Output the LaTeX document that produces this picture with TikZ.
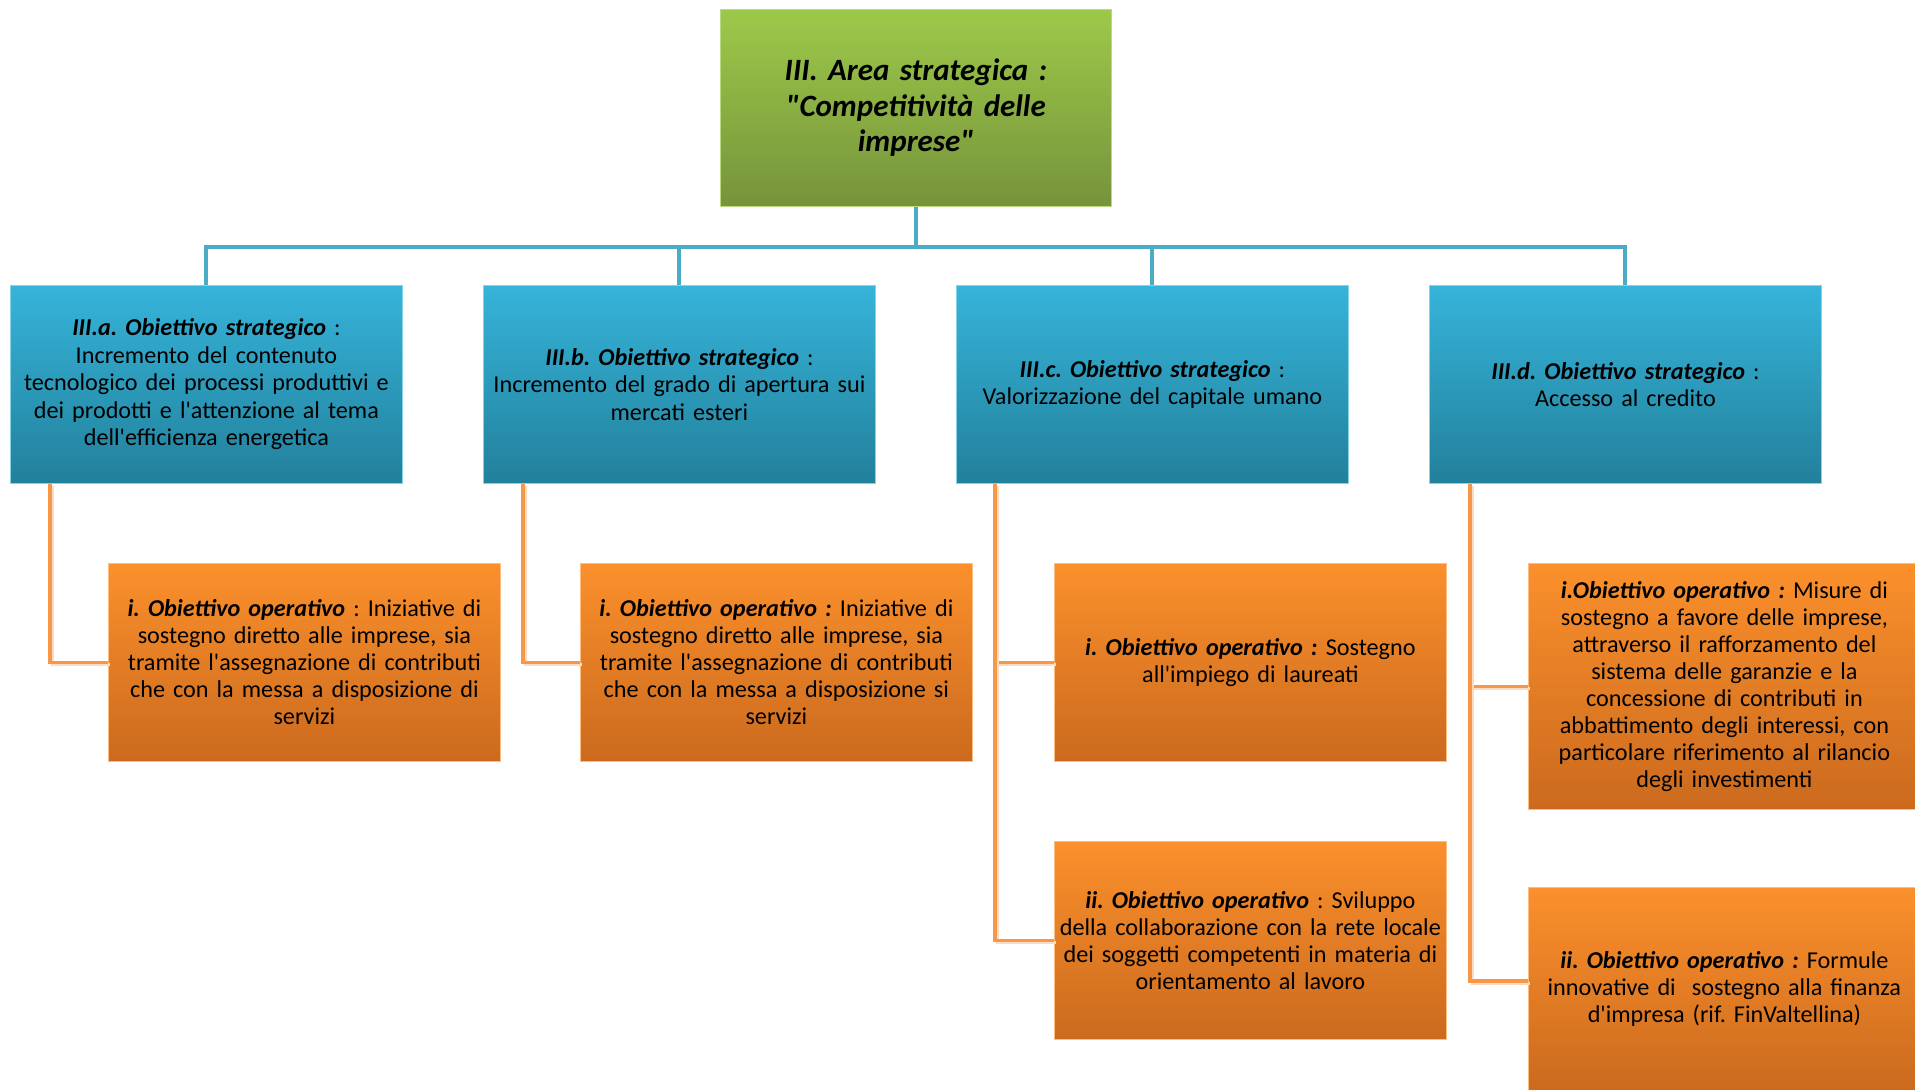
\documentclass[tikz,border=0pt]{standalone}
\usepackage{fontspec}
\setmainfont{Carlito}[Ligatures=TeXOff]
\frenchspacing
\definecolor{greentop}{HTML}{9DC94A}
\definecolor{greenbot}{HTML}{76933B}
\definecolor{bluetop}{HTML}{36B4DA}
\definecolor{bluebot}{HTML}{22809B}
\definecolor{orangetop}{HTML}{FB902C}
\definecolor{orangebot}{HTML}{CB6A1E}
\definecolor{busline}{HTML}{4AACC6}
\definecolor{linkline}{HTML}{F7974A}
\begin{document}
\begin{tikzpicture}[x=1pt,y=-1pt,
    box/.style={rectangle, anchor=north west, inner sep=0pt, align=center},
    areabox/.style={box, top color=greentop, bottom color=greenbot, draw=greentop!70!white, line width=0.8pt,
        minimum width=391pt, minimum height=197pt, text width=380pt, font={\fontsize{31}{35.5}\selectfont\bfseries\itshape}},
    stratbox/.style={box, top color=bluetop, bottom color=bluebot, draw=bluetop!60!white, line width=0.8pt,
        minimum width=392pt, minimum height=198pt, text width=392pt, font={\fontsize{24.2}{27.5}\selectfont}},
    opbox/.style={box, top color=orangetop, bottom color=orangebot, draw=orangetop!60!white, line width=0.8pt,
        minimum width=392pt, minimum height=198pt, text width=392pt, font={\fontsize{24.2}{27}\selectfont}},
    bus/.style={draw=busline, line width=4pt},
    link/.style={draw=linkline, line width=3.5pt,
        preaction={draw=linkline!35, line width=3pt, transform canvas={shift={(2pt,-2.5pt)}}}}]
    \clip (0,0) rectangle (1915,1090);
    \fill[white] (0,0) rectangle (1915,1090);

    \node[areabox] (area) at (720,9) {III. Area strategica :\\ "Competitività delle\\ imprese"};

    \node[stratbox] (sa) at (10,285) {\textbf{\textit{III.a. Obiettivo strategico}} :\\ Incremento del contenuto\\ tecnologico dei processi produttivi e\\ dei prodotti e l'attenzione al tema\\ dell'efficienza energetica};
    \node[stratbox] (sb) at (483,285) {\textbf{\textit{III.b. Obiettivo strategico}} :\\ Incremento del grado di apertura sui\\ mercati esteri};
    \node[stratbox] (sc) at (956,285) {\textbf{\textit{III.c. Obiettivo strategico}} :\\ Valorizzazione del capitale umano};
    \node[stratbox] (sd) at (1429,285) {\textbf{\textit{III.d. Obiettivo strategico}} :\\ Accesso al credito};

    \node[opbox] (oa) at (108,563) {\textbf{\textit{i. Obiettivo operativo}} : Iniziative di\\ sostegno diretto alle imprese, sia\\ tramite l'assegnazione di contributi\\ che con la messa a disposizione di\\ servizi};
    \node[opbox] (ob) at (580,563) {\textbf{\textit{i. Obiettivo operativo :}} Iniziative di\\ sostegno diretto alle imprese, sia\\ tramite l'assegnazione di contributi\\ che con la messa a disposizione si\\ servizi};
    \node[opbox] (oc1) at (1054,563) {\textbf{\textit{i. Obiettivo operativo :}} Sostegno\\ all'impiego di laureati};
    \node[opbox] (oc2) at (1054,841) {\textbf{\textit{ii. Obiettivo operativo}} : Sviluppo\\ della collaborazione con la rete locale\\ dei soggetti competenti in materia di\\ orientamento al lavoro};
    \node[opbox, minimum height=246pt] (od1) at (1528,563) {\textbf{\textit{i.Obiettivo operativo :}} Misure di\\ sostegno a favore delle imprese,\\ attraverso il rafforzamento del\\ sistema delle garanzie e la\\ concessione di contributi in\\ abbattimento degli interessi, con\\ particolare riferimento al rilancio\\ degli investimenti};
    \node[opbox, minimum height=203pt] (od2) at (1528,887) {\textbf{\textit{ii. Obiettivo operativo :}} Formule\\ innovative di\ \ sostegno alla finanza\\ d'impresa (rif. FinValtellina)};

    \draw[bus] (area.south) -- ++(0,40) -| (sa.north);
    \draw[bus] (area.south) -- ++(0,40) -| (sb.north);
    \draw[bus] (area.south) -- ++(0,40) -| (sc.north);
    \draw[bus] (area.south) -- ++(0,40) -| (sd.north);

    \draw[link] ([xshift=40pt]sa.south west) |- (oa.west);
    \draw[link] ([xshift=40pt]sb.south west) |- (ob.west);
    \draw[link] ([xshift=39pt]sc.south west) |- (oc1.west);
    \draw[link] ([xshift=39pt]sc.south west) |- (oc2.west);
    \draw[link] ([xshift=41pt]sd.south west) |- (od1.west);
    \draw[link] ([xshift=41pt]sd.south west) |- ([yshift=8pt]od2.west);
\end{tikzpicture}
\end{document}
